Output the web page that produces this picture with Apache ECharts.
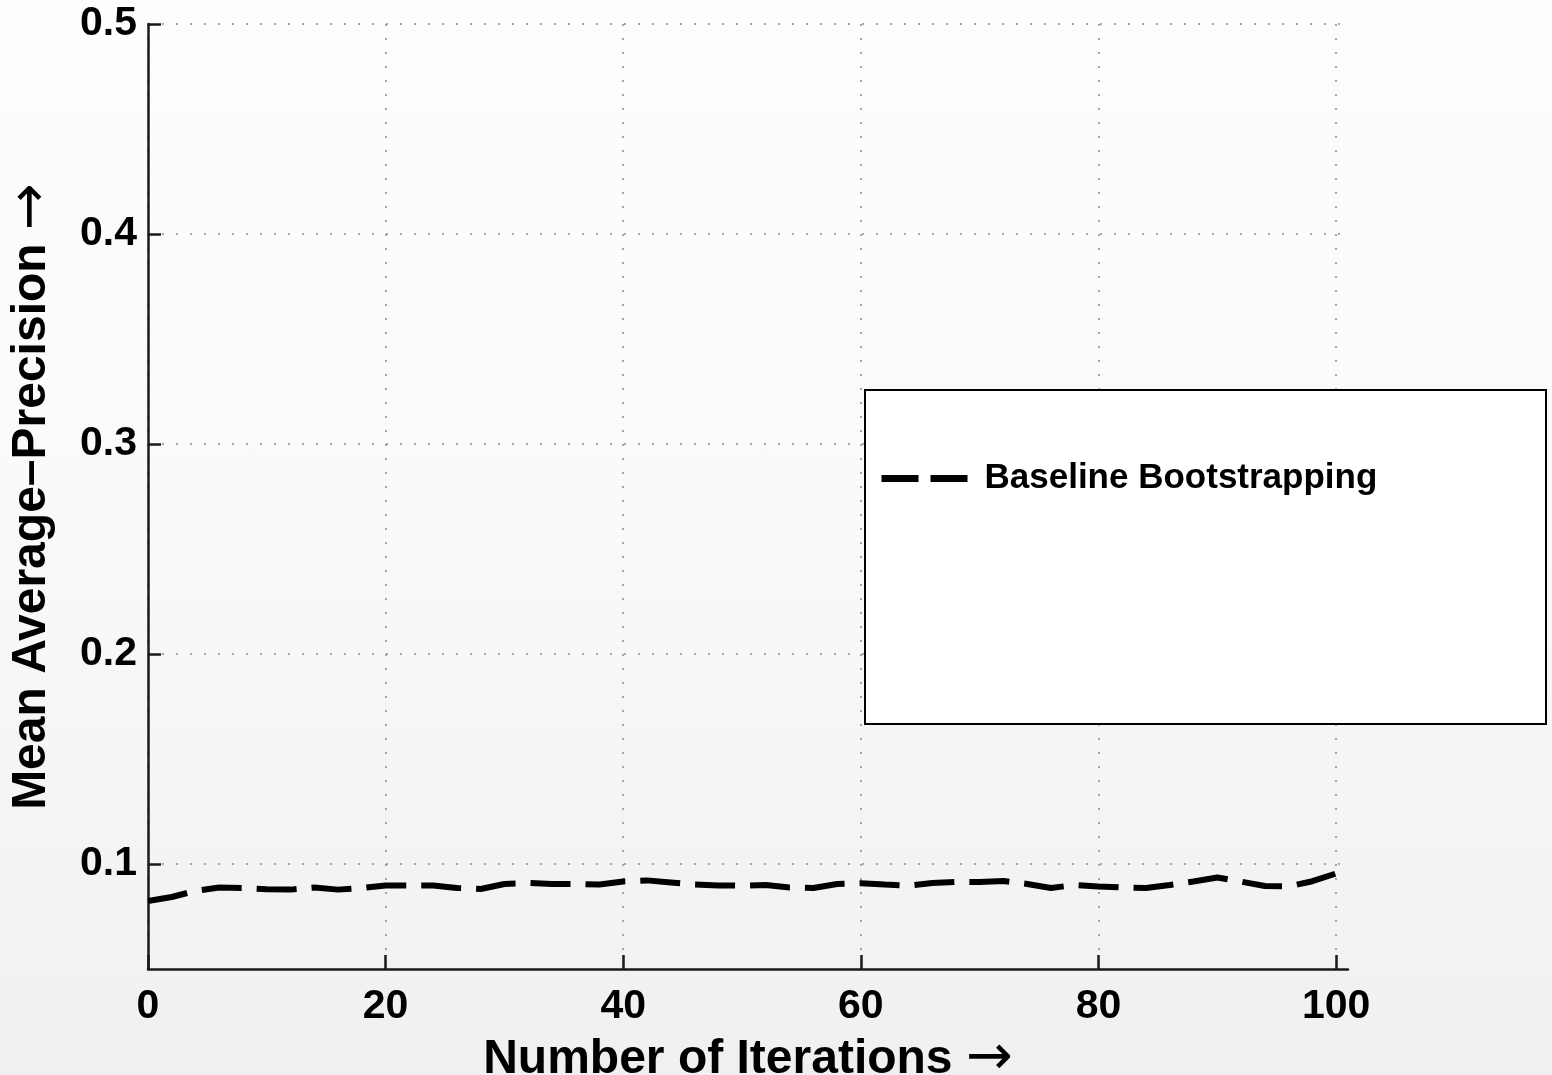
<!DOCTYPE html>
<html>
<head>
<meta charset="utf-8">
<title>Mean Average-Precision vs Iterations</title>
<script src="https://cdn.jsdelivr.net/npm/echarts@6/dist/echarts.min.js"></script>
<style>
  html, body { margin: 0; padding: 0; }
  body {
    width: 1552px; height: 1075px; overflow: hidden;
    background: linear-gradient(to bottom, #fdfdfd 0%, #fafafa 45%, #f0f0f0 100%);
  }
  #chart { width: 1552px; height: 1075px; }
</style>
</head>
<body>
<div id="chart"></div>
<script>
// Iteration index (x) and mean average precision of the baseline bootstrapping run
const iterations = [0, 2, 4, 6, 8, 10, 12, 14, 16, 18, 20, 22, 24, 26, 28, 30, 32, 34, 36, 38, 40,
  42, 44, 46, 48, 50, 52, 54, 56, 58, 60, 62, 64, 66, 68, 70, 72, 74, 76, 78, 80,
  82, 84, 86, 88, 90, 92, 94, 96, 98, 100];
const baselineMAP = [0.0824, 0.0843, 0.0872, 0.0888, 0.0886, 0.0880, 0.0878, 0.0888, 0.0878, 0.0886, 0.0898,
  0.0897, 0.0898, 0.0886, 0.0881, 0.0905, 0.0910, 0.0905, 0.0905, 0.0902, 0.0917,
  0.0922, 0.0912, 0.0902, 0.0898, 0.0897, 0.0900, 0.0888, 0.0886, 0.0905, 0.0908,
  0.0902, 0.0897, 0.0910, 0.0914, 0.0914, 0.0919, 0.0905, 0.0886, 0.0900, 0.0893,
  0.0888, 0.0886, 0.0900, 0.0917, 0.0936, 0.0916, 0.0895, 0.0893, 0.0918, 0.0955];
const xTicks = [0, 20, 40, 60, 80, 100];
const yTicks = [0.1, 0.2, 0.3, 0.4, 0.5];
const seriesName = 'Baseline Bootstrapping';

const FONT = '"Liberation Sans", Arial, Helvetica, sans-serif';
const ARROW_FONT = '"DejaVu Sans", sans-serif';
const gridDots = { color: '#8a8a8a', width: 1.5, type: [2, 12] };
const arrowStyle = { fontFamily: ARROW_FONT, fontWeight: 'normal', fontSize: 56, color: '#000' };

const chart = echarts.init(document.getElementById('chart'), null, { renderer: 'canvas' });

chart.setOption({
  backgroundColor: 'transparent',
  animation: false,
  grid: { left: 148, top: 24, width: 1200, height: 945, containLabel: false, outerBoundsMode: 'none' },
  xAxis: {
    type: 'value',
    min: 0,
    max: 101,
    name: 'Number of Iterations {arr|→}',
    nameLocation: 'middle',
    nameGap: 55,
    nameTextStyle: {
      color: '#000', fontFamily: FONT, fontWeight: 'bold', fontSize: 48,
      rich: { arr: arrowStyle }
    },
    axisLine: { show: true, lineStyle: { color: '#1a1a1a', width: 2.5 } },
    axisTick: { show: true, inside: true, length: 14, customValues: xTicks, lineStyle: { color: '#1a1a1a', width: 2.5 } },
    axisLabel: {
      customValues: xTicks, margin: 17,
      color: '#000', fontFamily: FONT, fontWeight: 'bold', fontSize: 41
    },
    splitLine: { show: true, lineStyle: gridDots }
  },
  yAxis: {
    type: 'value',
    min: 0.05,
    max: 0.5,
    name: 'Mean Average–Precision {arr|→}',
    nameLocation: 'middle',
    nameGap: 88,
    nameRotate: 90,
    nameTextStyle: {
      color: '#000', fontFamily: FONT, fontWeight: 'bold', fontSize: 48,
      rich: { arr: arrowStyle }
    },
    axisLine: { show: true, lineStyle: { color: '#1a1a1a', width: 2.5 } },
    axisTick: { show: true, inside: true, length: 13, customValues: yTicks, lineStyle: { color: '#1a1a1a', width: 2.5 } },
    axisLabel: {
      customValues: yTicks, margin: 11,
      color: '#000', fontFamily: FONT, fontWeight: 'bold', fontSize: 41,
      formatter: v => v.toFixed(1)
    },
    splitLine: { show: true, lineStyle: gridDots }
  },
  legend: {
    show: true,
    left: 878,
    top: 461,
    padding: 0,
    orient: 'vertical',
    itemWidth: 98,
    itemHeight: 14,
    itemStyle: { opacity: 0 },
    lineStyle: { width: 7, type: [37, 12], color: '#000' },
    textStyle: { color: '#000', fontFamily: FONT, fontWeight: 'bold', fontSize: 35 },
    data: [seriesName],
    z: 10
  },
  graphic: [{
    type: 'rect',
    z: 5,
    shape: { x: 865, y: 390, width: 681, height: 334 },
    style: { fill: '#ffffff', stroke: '#000000', lineWidth: 2 }
  }],
  series: [{
    name: seriesName,
    type: 'line',
    data: iterations.map((x, i) => [x, baselineMAP[i]]),
    symbol: 'none',
    smooth: false,
    lineStyle: { color: '#000', width: 6, type: [40, 15] },
    itemStyle: { color: '#000' },
    z: 3
  }]
});
</script>
</body>
</html>
